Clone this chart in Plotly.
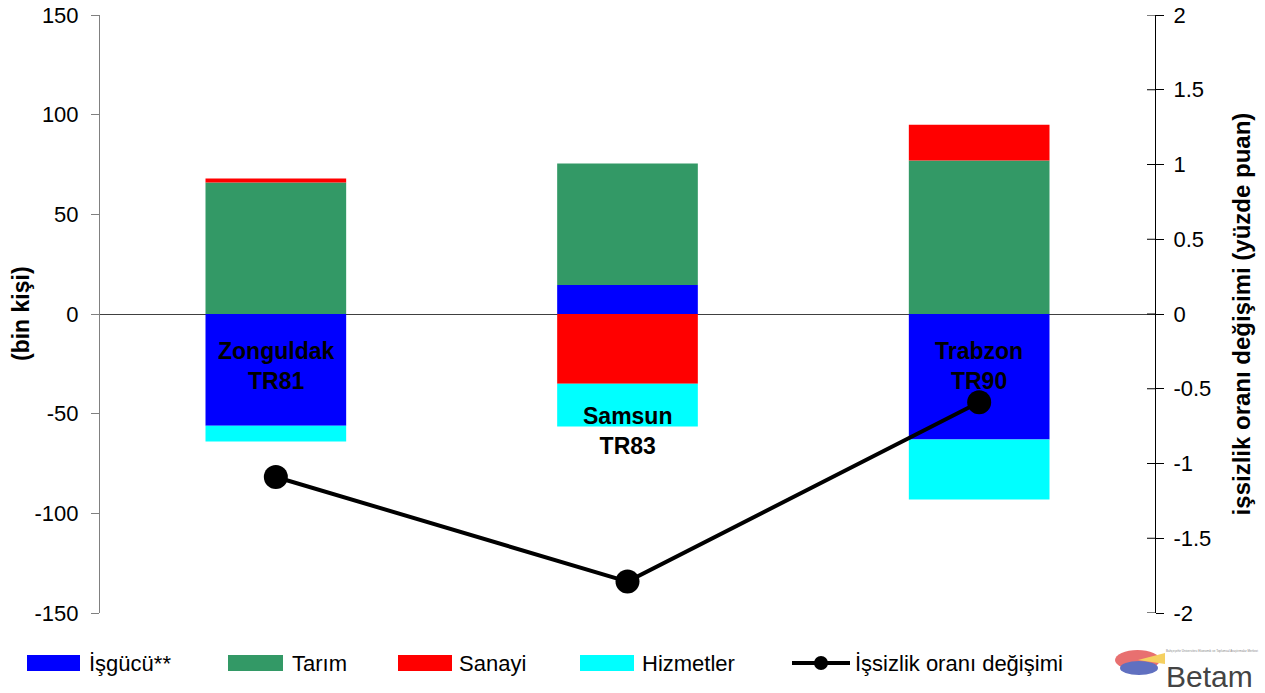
import plotly.graph_objects as go

categories = ["Zonguldak TR81", "Samsun TR83", "Trabzon TR90"]
isgucu = [-56, 14.5, -63]
tarim = [66, 61, 77]
sanayi = [2, -35, 18]
hizmetler = [-8, -21.5, -30]
issizlik = [-1.09, -1.79, -0.59]

cat_labels = ["Zonguldak<br>TR81", "Samsun<br>TR83", "Trabzon<br>TR90"]
cat_label_y = [-26, -58.5, -26]

left_ticks = [-150, -100, -50, 0, 50, 100, 150]
right_ticks = [-2, -1.5, -1, -0.5, 0, 0.5, 1, 1.5, 2]

colors = {"İşgücü**": "#0000FF", "Tarım": "#339966", "Sanayi": "#FF0000", "Hizmetler": "#00FFFF"}
FONT = "Liberation Sans, Arial, sans-serif"

fig = go.Figure()
for name, vals in [("İşgücü**", isgucu), ("Tarım", tarim), ("Sanayi", sanayi), ("Hizmetler", hizmetler)]:
    fig.add_trace(go.Bar(x=categories, y=vals, name=name, marker=dict(color=colors[name], line=dict(width=0)),
                         showlegend=False))
fig.add_trace(go.Scatter(x=categories, y=issizlik, yaxis="y2", mode="lines+markers",
                         line=dict(color="black", width=4), marker=dict(color="black", size=24),
                         name="İşsizlik oranı değişimi", showlegend=False))

L, R, T, B = 100, 110, 15, 80
W, H = 1265, 693
pw, ph = W - L - R, H - T - B

def px(x):
    return (x - L) / pw

def py(y):
    return (H - B - y) / ph

annotations = []
for c, t, yy in zip(categories, cat_labels, cat_label_y):
    annotations.append(dict(x=c, y=yy, xref="x", yref="y", text="<b>" + t + "</b>", showarrow=False,
                            font=dict(family=FONT, size=23, color="black")))

# left axis title
annotations.append(dict(x=px(21), y=0.5, xref="paper", yref="paper", text="<b>(bin kişi)</b>", showarrow=False,
                        textangle=-90, xanchor="center", yanchor="middle",
                        font=dict(family=FONT, size=23, color="black")))

shapes = []
# inner half of the right-axis cross ticks
for v in right_ticks:
    shapes.append(dict(type="line", xref="paper", yref="y2", x0=1 - 8 / pw, x1=1, y0=v, y1=v,
                       line=dict(color="black", width=1)))

legend_items = [("İşgücü**", 27, 80, 87), ("Tarım", 228, 283, 290), ("Sanayi", 398, 452, 457),
                ("Hizmetler", 580, 634, 640)]
ly = 663
for name, x0, x1, tx in legend_items:
    shapes.append(dict(type="rect", xref="paper", yref="paper", x0=px(x0), x1=px(x1), y0=py(ly + 8), y1=py(ly - 8),
                       fillcolor=colors[name], line=dict(width=0)))
    annotations.append(dict(x=px(tx), y=py(ly), xref="paper", yref="paper", text=name, showarrow=False,
                            xanchor="left", yanchor="middle", font=dict(family=FONT, size=22, color="black")))
shapes.append(dict(type="line", xref="paper", yref="paper", x0=px(792), x1=px(850), y0=py(ly), y1=py(ly),
                   line=dict(color="black", width=4)))
shapes.append(dict(type="circle", xref="paper", yref="paper", x0=px(814), x1=px(828), y0=py(ly + 7), y1=py(ly - 7),
                   fillcolor="black", line=dict(width=0)))
annotations.append(dict(x=px(853), y=py(ly), xref="paper", yref="paper", text="İşsizlik oranı değişimi",
                        showarrow=False, xanchor="left", yanchor="middle",
                        font=dict(family=FONT, size=22, color="black")))
# Betam logo approximation
shapes.append(dict(type="circle", xref="paper", yref="paper", x0=px(1115), x1=px(1160), y0=py(670), y1=py(650),
                   fillcolor="#E87070", line=dict(width=0)))
shapes.append(dict(type="circle", xref="paper", yref="paper", x0=px(1120), x1=px(1158), y0=py(675), y1=py(661),
                   fillcolor="#6070C0", line=dict(width=0)))
shapes.append(dict(type="path", xref="paper", yref="paper",
                   path=f"M {px(1138)} {py(660)} L {px(1165)} {py(653)} L {px(1165)} {py(664)} Z",
                   fillcolor="#F5D060", line=dict(width=0)))
annotations.append(dict(x=px(1209), y=py(695), xref="paper", yref="paper", text="Betam", showarrow=False,
                        xanchor="center", yanchor="bottom", font=dict(family=FONT, size=30, color="#444444")))
annotations.append(dict(x=px(1212), y=py(655), xref="paper", yref="paper",
                        text="Bahçeşehir Üniversitesi Ekonomik ve Toplumsal Araştırmalar Merkezi", showarrow=False,
                        xanchor="center", yanchor="bottom", font=dict(family=FONT, size=3, color="#888888")))

fig.update_layout(
    width=W, height=H,
    margin=dict(l=L, r=R, t=T, b=B),
    paper_bgcolor="white", plot_bgcolor="white",
    barmode="relative", bargap=0.6,
    font=dict(family=FONT, size=22, color="black"),
    xaxis=dict(showticklabels=False, showline=False, showgrid=False, ticks="", zeroline=False,
               automargin=False),
    yaxis=dict(range=[-150, 150], tickvals=left_ticks, ticktext=[str(v) for v in left_ticks], showgrid=False,
               showline=True, linecolor="#808080", linewidth=1, ticks="outside", ticklen=8, tickcolor="#808080",
               zeroline=True, zerolinecolor="#404040", zerolinewidth=1, automargin=False,
               ticklabelstandoff=8, tickfont=dict(family=FONT, size=22)),
    yaxis2=dict(range=[-2, 2], tickvals=right_ticks,
                ticktext=["-2", "-1.5", "-1", "-0.5", "0", "0.5", "1", "1.5", "2"],
                overlaying="y", side="right", showgrid=False, zeroline=False, automargin=False,
                showline=True, linecolor="black", linewidth=1, ticks="outside", ticklen=8, tickcolor="black",
                ticklabelstandoff=5,
                title=dict(text="<b>işsizlik oranı değişimi (yüzde puan)</b>", font=dict(family=FONT, size=24),
                           standoff=22),
                tickfont=dict(family=FONT, size=22)),
    annotations=annotations, shapes=shapes, showlegend=False,
)

fig.write_html("out.html", config={"displayModeBar": False},
               post_script="document.body.style.margin='0';")
